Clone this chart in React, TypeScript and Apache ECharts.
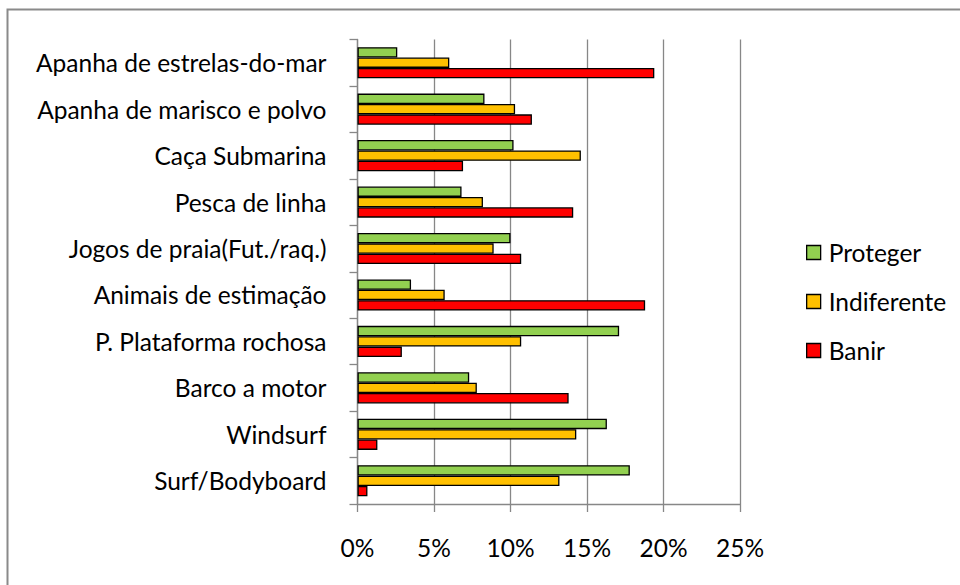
import React, { useEffect, useRef } from "react";
import * as echarts from "echarts";

const categories = [
  "Apanha de estrelas-do-mar",
  "Apanha de marisco e polvo",
  "Caça Submarina",
  "Pesca de linha",
  "Jogos de praia(Fut./raq.)",
  "Animais de estimação",
  "P. Plataforma rochosa",
  "Barco a motor",
  "Windsurf",
  "Surf/Bodyboard",
];

const proteger = [2.6, 8.3, 10.2, 6.8, 10.0, 3.5, 17.1, 7.3, 16.3, 17.8];
const indiferente = [6.0, 10.3, 14.6, 8.2, 8.9, 5.7, 10.7, 7.8, 14.3, 13.2];
const banir = [19.4, 11.4, 6.9, 14.1, 10.7, 18.8, 2.9, 13.8, 1.3, 0.65];

const seriesNames = ["Proteger", "Indiferente", "Banir"];
const seriesColors = ["#92D050", "#FFC000", "#FF0000"];
const tickValues = [0, 5, 10, 15, 20, 25];

const FONT = "Lato, 'Noto Sans', sans-serif";
const FS = 24.5;

export default function App() {
  const ref = useRef<HTMLDivElement>(null);
  useEffect(() => {
    if (!ref.current) return;
    const chart = echarts.init(ref.current, undefined, { renderer: "svg" });
    const data = [proteger, indiferente, banir];
    chart.setOption({
      animation: false,
      backgroundColor: "#ffffff",
      textStyle: { fontFamily: FONT },
      grid: { left: 357.5, right: 220, top: 39.5, bottom: 81, containLabel: false },
      legend: {
        orient: "vertical",
        left: 806,
        top: 240,
        padding: 0,
        itemWidth: 14,
        itemHeight: 14,
        itemGap: 24,
        icon: "rect",
        data: seriesNames,
        itemStyle: { borderColor: "#000", borderWidth: 1.3 },
        textStyle: {
          fontFamily: FONT,
          fontSize: FS,
          color: "#000",
          lineHeight: 24,
          padding: [0, 0, 0, 3],
        },
      },
      xAxis: {
        type: "value",
        min: tickValues[0],
        max: tickValues[tickValues.length - 1],
        interval: 5,
        axisLine: { show: true, lineStyle: { color: "#878787", width: 1.3 } },
        axisTick: { show: true, length: 8, lineStyle: { color: "#878787", width: 1.3 } },
        splitLine: { show: true, lineStyle: { color: "#878787", width: 1.3 } },
        axisLabel: {
          formatter: (v: number) => v + "%",
          fontFamily: FONT,
          fontSize: FS,
          color: "#000",
          margin: 31,
        },
      },
      yAxis: {
        type: "category",
        data: categories,
        inverse: true,
        axisLine: { show: true, lineStyle: { color: "#878787", width: 1.3 } },
        axisTick: { show: true, length: 8, lineStyle: { color: "#878787", width: 1.3 } },
        axisLabel: { fontFamily: FONT, fontSize: FS, color: "#000", margin: 31 },
      },
      series: seriesNames.map((name, i) => ({
        name,
        type: "bar",
        data: data[i],
        barGap: "0%",
        barCategoryGap: "33%",
        itemStyle: { color: seriesColors[i], borderColor: "#000", borderWidth: 1.3 },
      })),
      graphic: [
        {
          type: "rect",
          shape: { x: 7.5, y: 9.5, width: 1000, height: 1000 },
          style: { fill: "none", stroke: "#8a8a8a", lineWidth: 2 },
          silent: true,
        },
      ],
    });
    return () => chart.dispose();
  }, []);
  return (
    <div
      ref={ref}
      style={{ position: "absolute", left: 0, top: 0, width: 960, height: 585 }}
    />
  );
}
